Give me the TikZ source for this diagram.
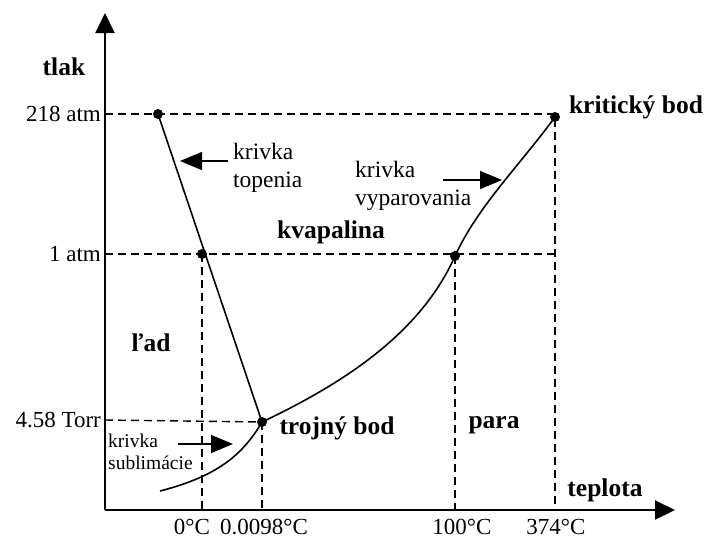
\documentclass[tikz,border=0pt]{standalone}
\usepackage{fontspec}
\setmainfont{Liberation Serif}
\usetikzlibrary{arrows.meta}
\begin{document}
\begin{tikzpicture}[x=1pt,y=-1pt,
  axis/.style={line width=2pt,-{Triangle[length=20pt,width=19pt]}},
  curve/.style={line width=1.6pt},
  guide/.style={line width=1.4pt,dash pattern=on 8pt off 5pt},
  pt/.style={circle,fill=black,inner sep=0pt,minimum size=10pt},
  lbl/.style={font=\fontsize{23}{25}\selectfont,inner sep=0pt},
  blbl/.style={font=\fontsize{25.5}{28}\selectfont\bfseries,inner sep=0pt},
  note/.style={font=\fontsize{23.5}{28}\selectfont,inner sep=0pt,align=left},
  snote/.style={font=\fontsize{19.5}{22}\selectfont,inner sep=0pt,align=left},
  pointer/.style={line width=1.6pt,-{Triangle[length=22pt,width=18pt]}}]
\useasboundingbox (0,0) rectangle (708,538);
% axes
\coordinate (O) at (105,510);
\coordinate (ytip) at (105,13);
\coordinate (xtip) at (675,510);
\draw[axis] (O) -- (ytip);
\draw[axis] (O) -- (xtip);
% points
\node[pt] (M) at (158,114) {};
\node[pt] (Z) at (202,254) {};
\node[pt] (T) at (262,422) {};
\node[pt] (W) at (455,256) {};
\node[pt] (K) at (555,117) {};
\coordinate (S) at (160,491);
% axis foot coordinates
\coordinate (y218) at (105,114);
\coordinate (y1) at (105,254);
\coordinate (y458) at (105,420);
\coordinate (x0) at (202,510);
\coordinate (xT) at (262,510);
\coordinate (x100) at (455,510);
\coordinate (x374) at (555,510);
\coordinate (k218) at (555,114);
\coordinate (k1) at (555,254);
% guides
\draw[guide] (y218) -- (k218) -- (x374);
\draw[guide] (y1) -- (k1);
\draw[guide] (y458) -- (T.center);
\draw[guide] (Z.center) -- (x0);
\draw[guide] (T.center) -- (xT);
\draw[guide] (W.center) -- (x100);
% curves
\draw[curve] (M.center) -- (T.center);
\draw[curve] (T.center) .. controls (340,385) and (420,335) .. (W.center)
  .. controls (478,206) and (520,165) .. (K.center);
\draw[curve] (S) .. controls (210,478) and (240,460) .. (T.center);
% axis labels
\node[blbl] (tlak) at (64,67) {tlak};
\node[blbl] (teplota) at (605,490) {teplota};
\node[lbl,anchor=east] (l218) at (101,114) {218 atm};
\node[lbl,anchor=east] (l1) at (101,254) {1 atm};
\node[lbl,anchor=east] (l458) at (101,420) {4.58 Torr};
\node[lbl,anchor=base] (t0) at (192,534) {0°C};
\node[lbl,anchor=base] (tT) at (264,534) {0.0098°C};
\node[lbl,anchor=base] (t100) at (462,534) {100°C};
\node[lbl,anchor=base] (t374) at (556,534) {374°C};
% region labels
\node[blbl] (kb) at (636,107) {kritický bod};
\node[blbl] (kv) at (331,232) {kvapalina};
\node[blbl] (lad) at (151,343) {ľad};
\node[blbl] (tb) at (337,428) {trojný bod};
\node[blbl] (para) at (494,425) {para};
% curve notes
\node[note,anchor=north west] (nt) at (233,143) {krivka\\topenia};
\node[note,anchor=north west] (nv) at (355,161) {krivka\\vyparovania};
\node[snote,anchor=north west] (ns) at (108,434) {krivka\\sublimácie};
\coordinate (at1) at (228,161);
\coordinate (at2) at (180,161);
\coordinate (av1) at (443,180);
\coordinate (av2) at (502,180);
\coordinate (as1) at (178,444);
\coordinate (as2) at (233,444);
\draw[pointer] (at1) -- (at2);
\draw[pointer] (av1) -- (av2);
\draw[pointer] (as1) -- (as2);
\end{tikzpicture}
\end{document}
